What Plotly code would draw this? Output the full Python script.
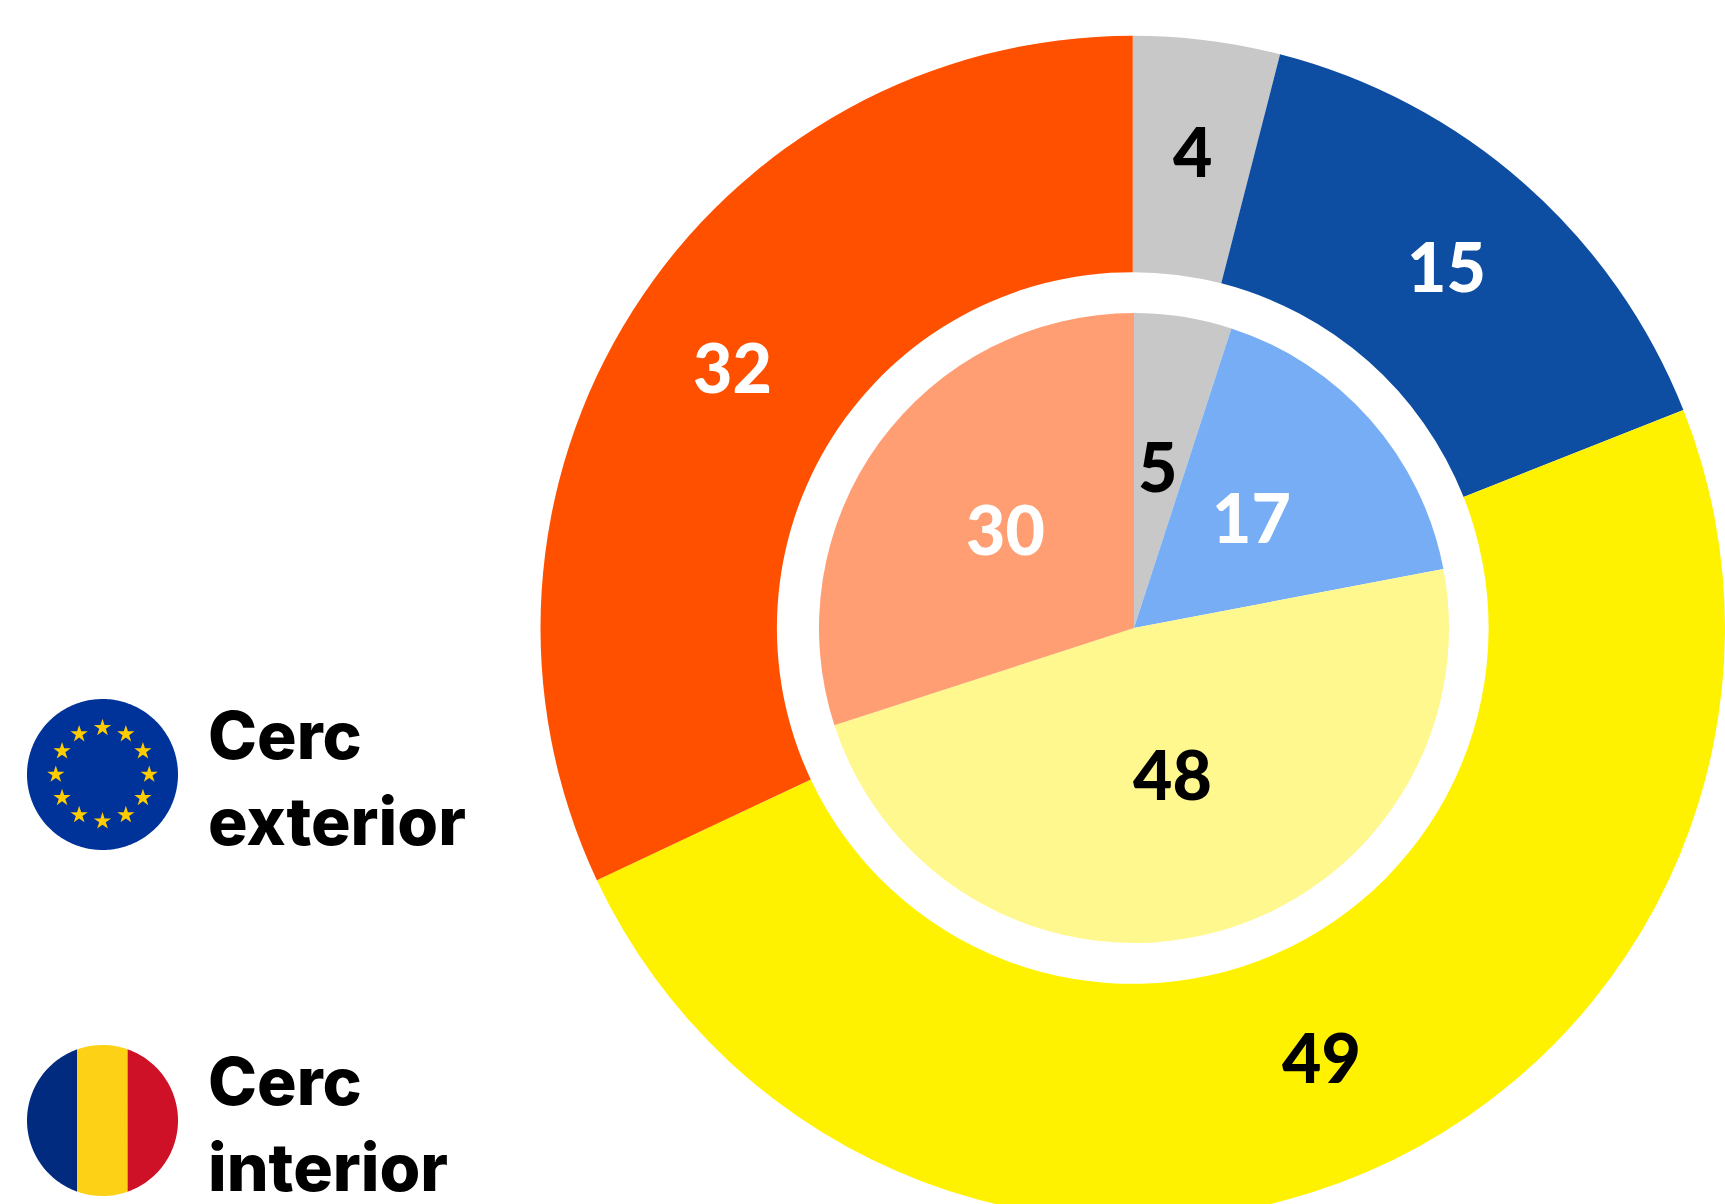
import numpy as np
import plotly.graph_objects as go

# ---- data ----
categories = ["Gri", "Albastru", "Galben", "Portocaliu"]
outer_values = [4, 15, 49, 32]
inner_values = [5, 17, 48, 30]
outer_colors = ["#C8C8C8", "#0E4EA2", "#FFF200", "#FF5000"]
inner_colors = ["#C8C8C8", "#76ADF4", "#FFF88F", "#FF9E73"]
label_colors = ["#000000", "#FFFFFF", "#000000", "#FFFFFF"]
legend_lines = ["Cerc", "exterior", "Cerc", "interior"]

# ---- layout constants (page pixels) ----
W, H = 1725, 1240
NUM_FONT = "Lato"
TXT_FONT = "Inter"


def dom_x(c, r):
    return [(c - r) / W, min((c + r) / W, 1)]


def dom_y(c, r):
    return [1 - (c + r) / H, 1 - (c - r) / H]


CX, CY = 1133, 628
R_OUT, R_HOLE, R_IN = 592.5, 356, 315
CX_IN = 1134

fig = go.Figure()
for vals, cols, cx, r, hole in [
    (outer_values, outer_colors, CX, R_OUT, R_HOLE / R_OUT),
    (inner_values, inner_colors, CX_IN, R_IN, 0),
]:
    fig.add_trace(go.Pie(
        labels=categories, values=vals, sort=False, direction="clockwise", rotation=0,
        hole=hole, domain=dict(x=dom_x(cx, r), y=dom_y(CY, r)),
        marker=dict(colors=cols, line=dict(width=0)),
        textinfo="none", showlegend=False,
    ))


def add_value_labels(vals, radius):
    """Centre each value on its slice, at the given radius, from the slice's own angle."""
    ends = np.cumsum(vals)
    for v, e, col in zip(vals, ends, label_colors):
        a = np.deg2rad((e - v / 2) / sum(vals) * 360)
        fig.add_annotation(
            x=CX + radius * np.sin(a), y=CY - radius * np.cos(a) - 7,
            xref="x", yref="y", text=str(v), showarrow=False,
            xanchor="center", yanchor="middle",
            font=dict(family=NUM_FONT, size=68, color=col, weight=900))


add_value_labels(outer_values, (R_OUT + R_HOLE) / 2)
add_value_labels(inner_values, R_IN / 2)


def disc(cx, cy, r, x0=None, x1=None, top=None, n=240):
    t = np.linspace(0, 2 * np.pi, n)
    x, y = cx + r * np.cos(t), cy + r * np.sin(t)
    if x0 is not None:
        x = np.clip(x, x0, x1)
    if top is not None:
        y = np.maximum(y, top)
    return list(x), list(y)


def add_disc(color, *args, **kw):
    x, y = disc(*args, **kw)
    fig.add_trace(go.Scatter(x=x, y=y, fill="toself", fillcolor=color, mode="none",
                             hoverinfo="skip", showlegend=False))


# EU flag
add_disc("#003399", 102.5, 774.5, 75.5, top=699)
ang = np.deg2rad(np.arange(0, 360, 30))
fig.add_trace(go.Scatter(
    x=102.5 + 46.7 * np.cos(ang), y=774.5 + 46.7 * np.sin(ang), mode="markers",
    marker=dict(symbol="star", size=13, color="#FFCC00", line=dict(width=0)),
    hoverinfo="skip", showlegend=False))
# Romanian flag
add_disc("#002B7F", 102.5, 1120.5, 75.5, x0=27, x1=77)
add_disc("#FCD116", 102.5, 1120.5, 75.5, x0=77, x1=127.6)
add_disc("#CE1126", 102.5, 1120.5, 75.5, x0=127.6, x1=178)

# legend text
for txt, base in zip(legend_lines, [759, 845, 1104.5, 1191]):
    fig.add_annotation(x=207, y=base, xref="x", yref="y", text=txt, showarrow=False,
                       xanchor="left", yanchor="bottom", yshift=-17, borderpad=0,
                       font=dict(family=TXT_FONT, size=66, color="#000000", weight=800))

fig.update_layout(
    width=W, height=H, margin=dict(l=0, r=0, t=0, b=0),
    paper_bgcolor="#FFFFFF", plot_bgcolor="rgba(0,0,0,0)",
    xaxis=dict(visible=False, range=[0, W], domain=[0, 1], fixedrange=True),
    yaxis=dict(visible=False, range=[H, 0], domain=[0, 1], fixedrange=True),
)

fig.write_html(
    "out.html",
    config=dict(displayModeBar=False),
    post_script="document.body.style.margin='0';document.documentElement.style.overflow='hidden';document.body.style.overflow='hidden';",
)
